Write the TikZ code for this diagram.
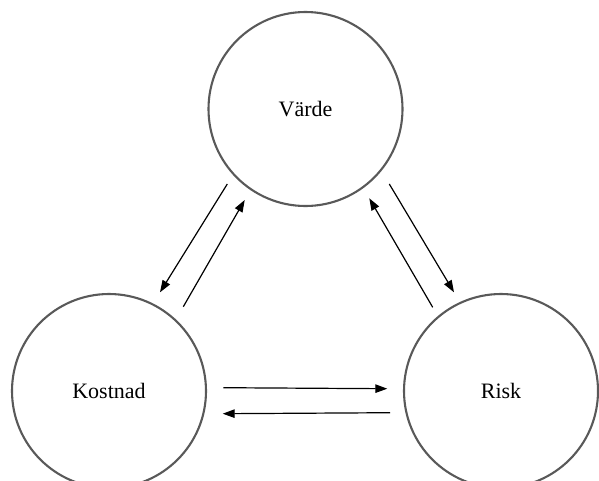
\documentclass[tikz,border=0pt]{standalone}
\usepackage{fontspec}
\setmainfont{Liberation Serif}
\usetikzlibrary{arrows.meta}
\begin{document}
\begin{tikzpicture}[x=1pt,y=-1pt,
  ring/.style={circle,draw=black!65,line width=2.1pt,minimum size=194pt,inner sep=0pt,font=\fontsize{22}{26}\selectfont},
  flow/.style={line width=1.2pt,-{Triangle[length=12pt,width=8.5pt]}}]
\useasboundingbox (0,0) rectangle (599,480);
\node[ring] (v) at (305.5,109) {Värde};
\node[ring] (k) at (109,391) {Kostnad};
\node[ring] (r) at (501,391) {Risk};
\coordinate (a1s) at (227.3,184);   \coordinate (a1e) at (160,292.3);
\coordinate (a2s) at (183.3,306.7); \coordinate (a2e) at (244.7,200);
\coordinate (a3s) at (432.7,307.3); \coordinate (a3e) at (369.3,198.3);
\coordinate (a4s) at (389.3,184);   \coordinate (a4e) at (454,292.3);
\coordinate (a5s) at (223.3,387.7); \coordinate (a5e) at (387.3,388.7);
\coordinate (a6s) at (390,412.7);   \coordinate (a6e) at (222.7,413.7);
\draw[flow] (a1s) -- (a1e);
\draw[flow] (a2s) -- (a2e);
\draw[flow] (a3s) -- (a3e);
\draw[flow] (a4s) -- (a4e);
\draw[flow] (a5s) -- (a5e);
\draw[flow] (a6s) -- (a6e);
\end{tikzpicture}
\end{document}
